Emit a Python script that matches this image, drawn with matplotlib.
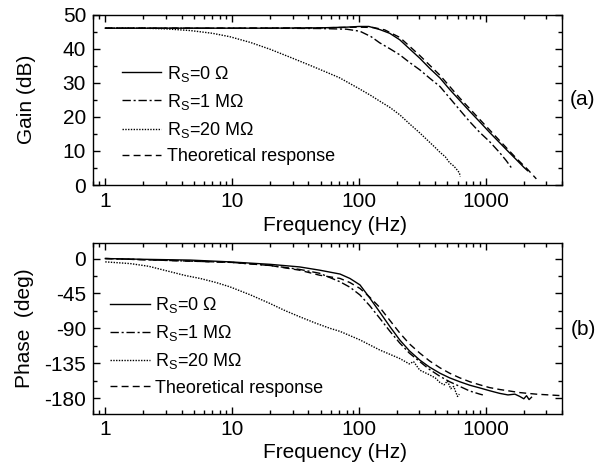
import matplotlib
matplotlib.use('Agg')
import matplotlib.pyplot as plt
from matplotlib.ticker import FixedLocator, LogLocator, MultipleLocator, NullFormatter

plt.rcParams['font.family'] = ['Liberation Sans', 'DejaVu Sans']
plt.rcParams['mathtext.fontset'] = 'custom'
plt.rcParams['mathtext.rm'] = 'Liberation Sans'
plt.rcParams['mathtext.it'] = 'Liberation Sans:italic'
plt.rcParams['axes.unicode_minus'] = False

# ---- Gain data (dB) ----
f_g0 = [1, 2, 5, 10, 20, 50, 80, 100, 120, 146, 175, 210, 250, 302, 360, 436, 521, 625,
        750, 900, 1070, 1290, 1500, 1750, 2000, 2140]
gain_0 = [46.0, 46.0, 46.0, 46.0, 46.0, 46.1, 46.3, 46.5, 46.5, 45.6, 44.5, 42.6, 40.0, 37.2,
          34.3, 31.4, 28.0, 24.8, 21.6, 18.5, 15.5, 12.4, 9.9, 7.4, 5.2, 4.2]

f_g1 = [1, 2, 5, 10, 20, 50, 80, 102, 125, 146, 175, 210, 250, 302, 360, 436, 521, 625,
        748, 900, 1070, 1290, 1450, 1600]
gain_1 = [46.0, 46.0, 46.0, 46.0, 46.0, 45.9, 45.7, 45.1, 43.5, 41.7, 40.0, 38.2, 36.0, 33.8,
          31.4, 28.9, 25.5, 22.0, 18.6, 15.4, 12.8, 9.5, 7.2, 5.0]

f_g20 = [1, 2, 3, 4.7, 7, 9.6, 14, 20, 28.6, 40, 50, 70, 100, 125, 146, 175, 210, 250, 302,
         360, 400, 436, 480, 520, 560, 590, 620, 630]
gain_20 = [46.0, 46.0, 45.8, 45.3, 44.5, 43.5, 41.8, 39.8, 37.5, 35.3, 33.8, 31.5, 28.3, 26.2,
           24.6, 22.8, 20.6, 18.0, 15.3, 12.6, 11.0, 9.6, 8.3, 6.5, 5.6, 4.6, 3.6, 2.5]

f_gt = [1, 10, 50, 100, 130, 160, 210, 302, 436, 625, 900, 1290, 1750, 2140, 2510]
gain_t = [46.0, 46.0, 46.1, 46.3, 46.2, 45.5, 43.3, 38.0, 32.2, 25.5, 19.2, 13.0, 7.8, 4.6, 1.8]

# ---- Phase data (deg) ----
f_p0 = [1, 2, 4.7, 9.6, 20, 34, 49, 71, 85, 102, 122, 146, 176, 210, 250, 302, 360, 436, 520,
        625, 750, 900, 1070, 1290, 1500, 1700, 1860, 2000, 2100, 2200, 2300]
phase_0 = [0, -1, -2, -4.3, -7.5, -10.8, -15, -20, -25.7, -34, -51, -69, -88, -105, -119, -131,
           -140, -148, -154, -159, -163.5, -167, -170.5, -174, -176, -175, -178, -181, -177, -182, -179]

f_p1 = [1, 10, 20, 34, 49, 71, 85, 102, 122, 146, 176, 210, 250, 302, 360, 436, 520, 625,
        750, 900, 950]
phase_1 = [0, -5, -9, -14, -19, -30, -37, -47, -61, -77, -94, -109, -122, -133, -143, -152,
           -159, -165, -171, -175, -176]

f_p20 = [1, 1.57, 2.2, 3.25, 4.3, 5.6, 7.5, 9.6, 14, 19.9, 26, 34, 45, 59, 71, 102, 146, 210,
         250, 270, 302, 360, 400, 436, 470, 500, 530, 560, 580, 600, 620]
phase_20 = [-4.3, -6.5, -10, -17, -22, -25.7, -31, -36.5, -47, -58, -67, -75, -83, -90, -94,
            -105, -118, -129, -136, -133, -144, -150, -154, -160, -163, -158, -168, -165, -172,
            -178, -175]

f_pt = [1, 10, 20, 34, 49, 71, 85, 102, 122, 146, 176, 210, 250, 302, 360, 436, 520, 625,
        750, 900, 1070, 1290, 1860, 2500, 4000]
phase_t = [0, -5, -9, -15, -21.5, -25.7, -31, -38.6, -50, -63, -80, -96, -110, -122, -132,
           -141, -148, -154, -159, -163, -166.5, -169, -173, -175, -177]

labels = ['R$_\\mathrm{S}$=0 \u03a9', 'R$_\\mathrm{S}$=1 M\u03a9',
          'R$_\\mathrm{S}$=20 M\u03a9', 'Theoretical response']
styles = ['-', (0, (6, 2, 1.5, 2)), (0, (1, 1)), (0, (5, 3))]

fig = plt.figure(figsize=(6.13, 4.69), dpi=100)
ax1 = fig.add_axes([0.1517, 0.6055, 0.7651, 0.3635])
ax2 = fig.add_axes([0.1517, 0.1183, 0.7651, 0.3635])

ax1.plot(f_g0, gain_0, color='black', lw=1.0, ls=styles[0], label=labels[0])
ax1.plot(f_g1, gain_1, color='black', lw=1.0, ls=styles[1], label=labels[1])
ax1.plot(f_g20, gain_20, color='black', lw=1.0, ls=styles[2], label=labels[2])
ax1.plot(f_gt, gain_t, color='black', lw=1.0, ls=styles[3], label=labels[3])

ax2.plot(f_p0, phase_0, color='black', lw=1.0, ls=styles[0], label=labels[0])
ax2.plot(f_p1, phase_1, color='black', lw=1.0, ls=styles[1], label=labels[1])
ax2.plot(f_p20, phase_20, color='black', lw=1.0, ls=styles[2], label=labels[2])
ax2.plot(f_pt, phase_t, color='black', lw=1.0, ls=styles[3], label=labels[3])

for ax in (ax1, ax2):
    ax.set_xscale('log')
    ax.set_xlim(0.8, 4000)
    ax.xaxis.set_major_locator(FixedLocator([1, 10, 100, 1000]))
    ax.set_xticklabels(['1', '10', '100', '1000'])
    ax.xaxis.set_minor_locator(LogLocator(base=10, subs=range(2, 10)))
    ax.xaxis.set_minor_formatter(NullFormatter())
    ax.tick_params(which='both', direction='in', top=True, right=True, labelsize=15, width=1)
    ax.tick_params(which='major', length=5)
    ax.tick_params(which='minor', length=3)
    ax.tick_params(axis='x', pad=5)
    ax.tick_params(axis='y', pad=5)
    for s in ax.spines.values():
        s.set_linewidth(1.0)
    ax.set_xlabel('Frequency (Hz)', fontsize=15)

ax1.set_ylim(0, 50)
ax1.yaxis.set_major_locator(MultipleLocator(10))
ax1.yaxis.set_minor_locator(MultipleLocator(5))
ax1.set_ylabel('Gain (dB)', fontsize=15)
ax1.yaxis.set_label_coords(-0.122, 0.5)
ax1.xaxis.set_label_coords(0.515, -0.182)
ax1.text(1.043, 0.504, '(a)', transform=ax1.transAxes, fontsize=15, ha='center', va='center')

ax2.set_ylim(-200, 20)
ax2.yaxis.set_major_locator(FixedLocator([0, -45, -90, -135, -180]))
ax2.yaxis.set_minor_locator(MultipleLocator(22.5))
ax2.set_ylabel('Phase  (deg)', fontsize=15)
ax2.yaxis.set_label_coords(-0.126, 0.5)
ax2.xaxis.set_label_coords(0.515, -0.173)
ax2.text(1.045, 0.49, '(b)', transform=ax2.transAxes, fontsize=15, ha='center', va='center')

ax1.legend(loc='center left', bbox_to_anchor=(0.061, 0.415), frameon=False, fontsize=13,
           handlelength=2.2, handletextpad=0.3, labelspacing=0.45, borderpad=0, borderaxespad=0)
ax2.legend(loc='center left', bbox_to_anchor=(0.036, 0.397), frameon=False, fontsize=13,
           handlelength=2.2, handletextpad=0.3, labelspacing=0.45, borderpad=0, borderaxespad=0)

fig.savefig('out.png', dpi=100)
